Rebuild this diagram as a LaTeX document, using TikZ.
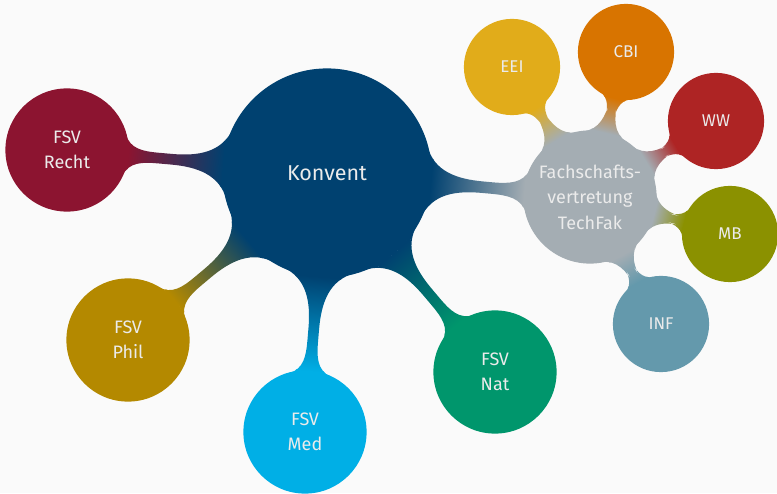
\documentclass[tikz,border=0pt]{standalone}
\usepackage{fontspec}
\setsansfont{Fira Sans}
\usetikzlibrary{mindmap}
\definecolor{bgcol}{HTML}{FAFAFA}
\definecolor{txtcol}{HTML}{EBEBEB}
\definecolor{konventblue}{RGB}{0,65,112}
\definecolor{rechtred}{RGB}{140,20,48}
\definecolor{philgold}{RGB}{180,137,0}
\definecolor{medcyan}{RGB}{0,175,230}
\definecolor{natgreen}{RGB}{0,150,108}
\definecolor{tfgray}{RGB}{164,173,179}
\definecolor{eeiyellow}{RGB}{225,172,26}
\definecolor{cbiorange}{RGB}{216,116,0}
\definecolor{wwred}{RGB}{174,36,36}
\definecolor{mbolive}{RGB}{139,145,0}
\definecolor{infblue}{RGB}{100,153,172}
\begin{document}
\begin{tikzpicture}[x=1pt, y=1pt, font=\sffamily, mindmap,
		bubble/.style={concept, concept color=#1, text=txtcol, text width=, align=center, inner sep=0pt},
		rootbubble/.style={bubble=#1, minimum size=208pt, font=\sffamily\fontsize{21.5}{26}\selectfont},
		fsvbubble/.style={bubble=#1, minimum size=122pt, font=\sffamily\fontsize{18}{25.5}\selectfont},
		tfbubble/.style={bubble=#1, minimum size=95pt, font=\sffamily\fontsize{17}{22}\selectfont}]
	% background and frame
	\fill[bgcol] (0,0) rectangle (777,493);
	\useasboundingbox (0,0) rectangle (777,493);
	% the big ones
	\node[rootbubble=konventblue] (konvent) at (327,320) {Konvent};
	\node[fsvbubble=rechtred] (recht) at (67,343) {FSV\\Recht};
	\node[fsvbubble=philgold] (phil) at (128,153) {FSV\\Phil};
	\node[fsvbubble=medcyan] (med) at (305,61) {FSV\\Med};
	\node[fsvbubble=natgreen] (nat) at (495,121) {FSV\\Nat};
	\node[fsvbubble=tfgray, minimum size=132pt] (techfak) at (590,296) {Fachschafts-\\vertretung\\TechFak};
	% departments of the TechFak
	\foreach \name/\pos/\col in {eei/{512,426}/eeiyellow, cbi/{626,441}/cbiorange, ww/{716,372}/wwred, mb/{730,259}/mbolive, inf/{661,169}/infblue} {
		\node[tfbubble=\col] (\name) at (\pos) {\MakeUppercase{\name}};
		\path (techfak) to[circle connection bar switch color=from (tfgray) to (\col)] (\name);
	};
	% bars from the Konvent
	\foreach \name/\col in {recht/rechtred, phil/philgold, med/medcyan, nat/natgreen, techfak/tfgray} {
		\path (konvent) to[circle connection bar switch color=from (konventblue) to (\col)] (\name);
	};
\end{tikzpicture}
\end{document}
